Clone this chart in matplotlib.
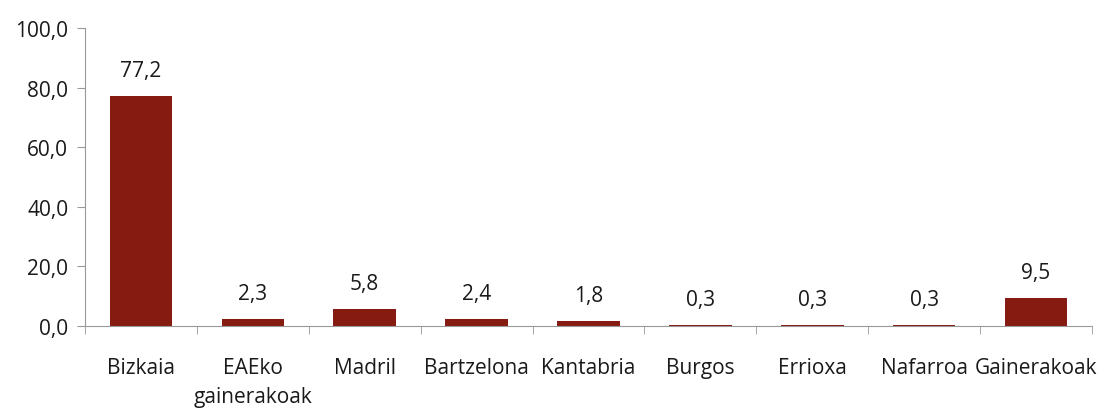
import matplotlib.pyplot as plt
import numpy as np

# Datuak
herriak = ['Bizkaia', 'EAEko\ngainerakoak', 'Madril', 'Bartzelona', 'Kantabria',
           'Burgos', 'Errioxa', 'Nafarroa', 'Gainerakoak']
balioak = [77.2, 2.3, 5.8, 2.4, 1.8, 0.3, 0.3, 0.3, 9.5]
y_ticks = [0, 20, 40, 60, 80, 100]

plt.rcParams['font.family'] = ['Open Sans', 'DejaVu Sans']

fig = plt.figure(figsize=(11, 4.1), dpi=100)
ax = fig.add_axes([0.0773, 0.2024, 0.9154, 0.7266])

x = np.arange(len(herriak))
bars = ax.bar(x, balioak, width=0.56, color='#861B11')

for b, v in zip(bars, balioak):
    ax.text(b.get_x() + b.get_width() / 2, v + 5, f'{v:.1f}'.replace('.', ','),
            ha='center', va='bottom', fontsize=15, color='#1a1a1a')

ax.set_xlim(-0.5, len(herriak) - 0.5)
ax.set_ylim(0, 100)
ax.set_yticks(y_ticks)
ax.set_yticklabels([f'{t:.1f}'.replace('.', ',') for t in y_ticks])
ax.set_xticks(x)
ax.set_xticklabels(herriak, linespacing=1.5)
ax.set_xticks(np.arange(-0.5, len(herriak)), minor=True)

ax.tick_params(axis='x', which='major', length=0, pad=22, labelsize=15, colors='#1a1a1a')
ax.tick_params(axis='x', which='minor', length=6, direction='out', color='#999999')
ax.tick_params(axis='y', length=6, direction='out', color='#999999', labelsize=15,
               labelcolor='#1a1a1a', pad=6)

for s in ['top', 'right']:
    ax.spines[s].set_visible(False)
for s in ['left', 'bottom']:
    ax.spines[s].set_color('#999999')

fig.savefig('out.png', dpi=100)
